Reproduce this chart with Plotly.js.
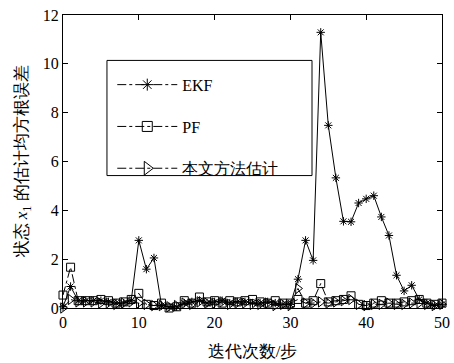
<!DOCTYPE html>
<html>
<head>
<meta charset="utf-8">
<script src="https://cdn.plot.ly/plotly-3.0.1.min.js"></script>
<style>html,body{margin:0;padding:0;background:#fff}#chart{width:454px;height:363px}</style>
</head>
<body>
<div id="chart"></div>
<script>
const steps = Array.from({length: 51}, (_, i) => i);
const ekf = [0.05,0.88,0.3,0.3,0.3,0.3,0.25,0.2,0.2,0.3,2.77,1.59,2.05,0.1,0.05,0.05,0.2,0.25,0.3,0.2,0.25,0.3,0.2,0.25,0.25,0.2,0.2,0.25,0.2,0.15,0.15,1.18,2.77,1.95,11.29,7.48,5.33,3.55,3.53,4.30,4.47,4.60,3.73,2.97,1.34,0.70,0.93,0.35,0.2,0.1,0.15];
const pf = [0.53,1.67,0.3,0.3,0.3,0.35,0.3,0.2,0.25,0.35,0.6,0.15,0.1,0.2,0.0,0.05,0.3,0.2,0.45,0.25,0.3,0.2,0.3,0.25,0.3,0.35,0.25,0.2,0.3,0.2,0.2,0.35,0.2,0.3,1.0,0.25,0.3,0.35,0.5,0.15,0.1,0.2,0.3,0.2,0.2,0.25,0.3,0.35,0.2,0.15,0.2];
const proposed = [0.0,0.35,0.25,0.25,0.25,0.2,0.2,0.15,0.2,0.25,0.2,0.15,0.1,0.1,0.05,0.1,0.2,0.15,0.25,0.2,0.2,0.25,0.15,0.2,0.2,0.15,0.15,0.2,0.1,0.15,0.1,0.8,0.2,0.2,0.25,0.2,0.25,0.3,0.35,0.15,0.1,0.15,0.15,0.2,0.15,0.15,0.2,0.2,0.15,0.1,0.15];
const names = ['EKF', 'PF', '本文方法估计'];
const xTicks = [0, 10, 20, 30, 40, 50];
const yTicks = [0, 2, 4, 6, 8, 10, 12];

const seriesList = [ekf, pf, proposed];
const symbols = ['asterisk-open', 'square-open', 'triangle-right-open'];
const sizes = [7, 8, 9];
const dashes = ['solid', 'dashdot', 'dashdot'];
const FONT = 'Liberation Serif';

const traces = [];
seriesList.forEach((s, k) => {
  traces.push({
    x: steps, y: s, type: 'scatter', mode: 'lines+markers', showlegend: false,
    line: {color: '#000', width: 1, dash: dashes[k]},
    marker: {symbol: symbols[k], size: sizes[k], color: '#000', line: {color: '#000', width: 1}},
    cliponaxis: false
  });
});
names.forEach((n, k) => {
  traces.push({
    x: [null], y: [null], type: 'scatter', mode: 'lines+markers', name: n,
    legendgroup: 'g' + k,
    line: {color: '#000', width: 1, dash: 'dashdot'},
    marker: {symbol: symbols[k], size: k === 2 ? 12 : 10, color: '#000', line: {color: '#000', width: 1}}
  });
});

const layout = {
  width: 454, height: 363,
  margin: {l: 63, r: 12, t: 15, b: 55},
  paper_bgcolor: '#fff', plot_bgcolor: '#fff',
  font: {family: FONT, color: '#000', size: 15},
  xaxis: {
    range: [0, 50], tickvals: xTicks, ticktext: xTicks.map(String),
    ticks: 'inside', ticklen: 5, tickwidth: 1, tickcolor: '#000',
    showline: true, linecolor: '#000', linewidth: 1, mirror: 'ticks',
    showgrid: false, zeroline: false,
    tickfont: {size: 16, family: FONT},
    title: {text: '迭代次数/步', font: {size: 17, family: FONT}, standoff: 14}
  },
  yaxis: {
    range: [0, 12], tickvals: yTicks, ticktext: yTicks.map(String),
    ticks: 'inside', ticklen: 5, tickwidth: 1, tickcolor: '#000',
    showline: true, linecolor: '#000', linewidth: 1, mirror: 'ticks',
    showgrid: false, zeroline: false,
    tickfont: {size: 16, family: FONT},
    title: {text: '状态 <i>x</i><sub>1</sub> 的估计均方根误差', font: {size: 17, family: FONT}, standoff: 10}
  },
  legend: {
    x: 0.13, y: 0.82, xanchor: 'left', yanchor: 'top',
    bgcolor: 'rgba(0,0,0,0)', borderwidth: 0,
    font: {size: 16, family: FONT},
    itemwidth: 60, tracegroupgap: 18
  },
  shapes: [{
    type: 'rect', xref: 'paper', yref: 'paper',
    x0: 0.116, x1: 0.657, y0: 0.452, y1: 0.845,
    line: {color: '#000', width: 1}, fillcolor: 'rgba(0,0,0,0)'
  }]
};

Plotly.newPlot('chart', traces, layout, {displayModeBar: false, staticPlot: true});
</script>
</body>
</html>
